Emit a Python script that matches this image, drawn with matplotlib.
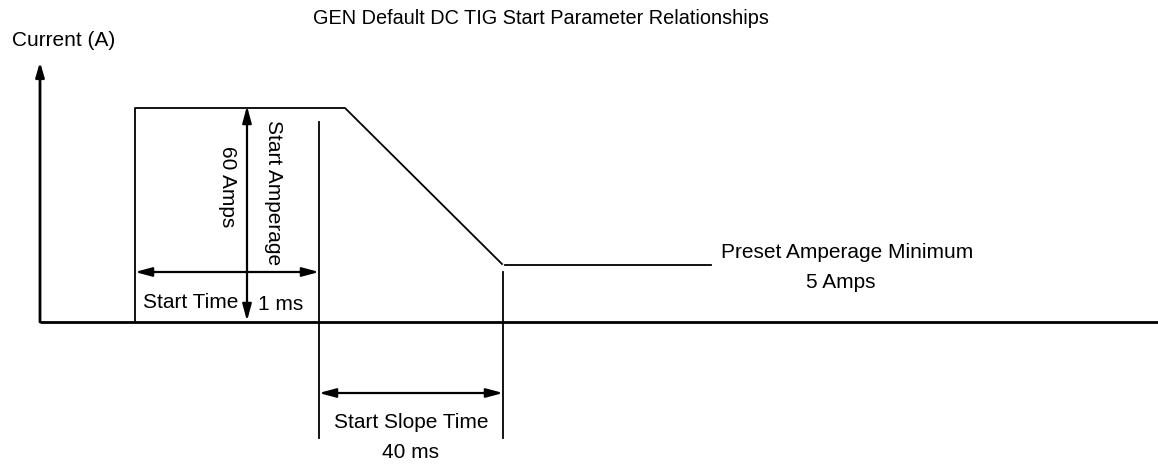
import matplotlib
matplotlib.use("Agg")
import matplotlib.pyplot as plt

plt.rcParams['font.family'] = ['Liberation Sans', 'DejaVu Sans']

# Diagram geometry (diagram units, y increases downward)
title = "GEN Default DC TIG Start Parameter Relationships"
y_label = "Current (A)"

baseline_y = 322
axis_x = 40
axis_top = 62
axis_right = 1158

start_wave_x = [135, 135, 345, 502]
start_wave_y = [322, 108, 108, 264]
preset_x = [505, 711]
preset_y = [265, 265]

marker_lines = {  # x: (top, bottom)
    319: (122, 438),
    503: (272, 438),
}

amp_arrow_x = 247
amp_arrow_span = (106, 321)
time_arrow_y = 272
time_arrow_span = (135, 319)
slope_arrow_y = 393
slope_arrow_span = (319, 503)

fig = plt.figure(figsize=(11.58, 4.66), dpi=100)
ax = fig.add_axes([0, 0, 1, 1])
ax.set_xlim(0, 1158)
ax.set_ylim(466, 0)
ax.axis('off')

fs = 15.0
lc = 'black'

# axes
ax.plot([axis_x, axis_right], [baseline_y, baseline_y], color=lc, lw=2.0, solid_capstyle='butt')
ax.annotate('', xy=(axis_x, axis_top), xytext=(axis_x, baseline_y),
            arrowprops=dict(arrowstyle='-|>,head_length=0.85,head_width=0.25', color=lc, lw=2.0,
                            shrinkA=0, shrinkB=0))

# waveform
ax.plot(start_wave_x, start_wave_y, color=lc, lw=1.3)
ax.plot(preset_x, preset_y, color=lc, lw=1.3)
for x, (t, b) in marker_lines.items():
    ax.plot([x, x], [t, b], color=lc, lw=1.3)

arrow_kw = dict(arrowstyle='<|-|>,head_length=1.0,head_width=0.27', color=lc, lw=1.6,
                shrinkA=0, shrinkB=0)
ax.annotate('', xy=(amp_arrow_x, amp_arrow_span[0]), xytext=(amp_arrow_x, amp_arrow_span[1]),
            arrowprops=arrow_kw)
ax.annotate('', xy=(time_arrow_span[0], time_arrow_y), xytext=(time_arrow_span[1], time_arrow_y),
            arrowprops=arrow_kw)
ax.annotate('', xy=(slope_arrow_span[0], slope_arrow_y), xytext=(slope_arrow_span[1], slope_arrow_y),
            arrowprops=arrow_kw)

# text
ax.text(541, 18, title, ha='center', va='center', fontsize=14.3)
ax.text(12, 40, y_label, ha='left', va='center', fontsize=fs)
ax.text(228, 187, "60 Amps", rotation=270, ha='center', va='center', fontsize=fs)
ax.text(273, 193, "Start Amperage", rotation=270, ha='center', va='center', fontsize=fs)
ax.text(143, 302, "Start Time", ha='left', va='center', fontsize=fs)
ax.text(258, 304, "1 ms", ha='left', va='center', fontsize=fs)
ax.text(411, 422, "Start Slope Time", ha='center', va='center', fontsize=fs)
ax.text(411, 452, "40 ms", ha='center', va='center', fontsize=fs)
ax.text(721, 252, "Preset Amperage Minimum", ha='left', va='center', fontsize=fs)
ax.text(841, 282, "5 Amps", ha='center', va='center', fontsize=fs)

fig.savefig('out.png', dpi=100)
